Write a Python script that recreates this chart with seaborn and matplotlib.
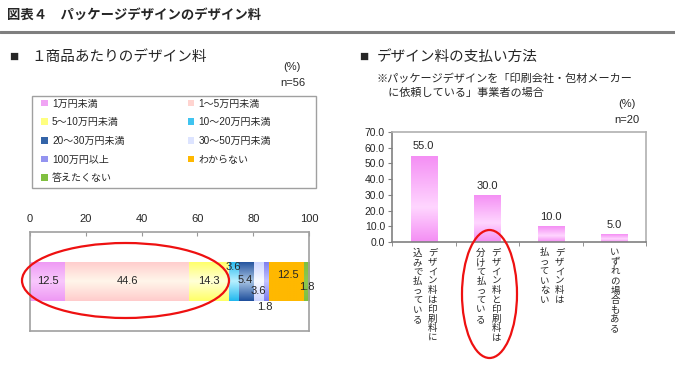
import numpy as np
import matplotlib
matplotlib.use("Agg")
import matplotlib.pyplot as plt
from matplotlib.colors import LinearSegmentedColormap
from matplotlib.patches import Patch, Rectangle, Ellipse
from matplotlib.lines import Line2D
import seaborn as sns

# data: design fee per product (stacked bar)
fee_labels = ["1万円未満", "1～5万円未満", "5～10万円未満", "10～20万円未満",
              "20～30万円未満", "30～50万円未満", "100万円以上", "わからない", "答えたくない"]
fee_values = [12.5, 44.6, 14.3, 3.6, 5.4, 3.6, 1.8, 12.5, 1.8]
fee_ticks = [0, 20, 40, 60, 80, 100]
fee_n = 56

# data: payment method (bar chart)
pay_labels = ["デザイン料は印刷料に込みで払っている", "デザイン料と印刷料は分けて払っている",
              "デザイン料は払っていない", "いずれの場合もある"]
pay_columns = [["デザイン料は印刷料に", "込みで払っている"],
               ["デザイン料と印刷料は", "分けて払っている"],
               ["デザイン料は", "払っていない"],
               ["いずれの場合もある"]]
pay_values = [55.0, 30.0, 10.0, 5.0]
pay_ticks = [0, 10, 20, 30, 40, 50, 60, 70]
pay_n = 20

# colours (edge tone / light tone of each gradient)
seg_dark = ["#ee98f4", "#ffcccc", "#ffff66", "#22b8ee", "#1f4f9c",
            "#ccd4ff", "#7c7cee", "#ffb800", "#7cc040"]
seg_light = ["#f8c8fc", "#fff6ea", "#ffffd8", "#b8f0ff", "#a8c4e4",
             "#f8faff", "#c4c4ff", "#ffb800", "#8cc850"]
legend_col = ["#f0a4f4", "#ffd4d0", "#ffff80", "#40c4f0", "#3464a8",
              "#dde4ff", "#9494f0", "#ffb800", "#80c040"]
bar_dark = "#f48ef4"
bar_light = "#ffd6ff"

# label nudges for the thin segments (data units)
seg_dx = [0, 0, 0, -0.4, -0.7, -0.5, -0.7, 0.5, 0.1]
seg_dy = [0, 0, 0, 0.146, 0.015, -0.096, -0.258, 0.066, -0.056]

sns.set_style("white")
plt.rcParams["font.family"] = ["Liberation Sans", "Noto Sans CJK JP"]

W, H = 675, 380
fig = plt.figure(figsize=(6.75, 3.8), dpi=100)


def fx(x):
    return x / W


def fy(y):
    return 1 - y / H


def gradient(ax, patch, dark, light, pos=0.5):
    x0, y0 = patch.get_x(), patch.get_y()
    w, h = patch.get_width(), patch.get_height()
    cmap = LinearSegmentedColormap.from_list("g", [(0, dark), (pos, light), (1, dark)])
    grad = np.linspace(0, 1, 100).reshape(-1, 1)
    im = ax.imshow(grad, cmap=cmap, aspect="auto", origin="lower",
                   extent=(x0, x0 + w, y0, y0 + h), zorder=patch.get_zorder() + 0.1)
    im.set_clip_path(patch)


# header
fig.text(fx(7), fy(15), "図表４　パッケージデザインのデザイン料", fontsize=9.6,
         fontweight="bold", va="center", ha="left")
fig.add_artist(Line2D([0, 1], [fy(31.5), fy(31.5)], color="#7f7f7f", lw=2.2))

# left section titles
fig.text(fx(9), fy(57), "■", fontsize=11, va="center")
fig.text(fx(31), fy(57), "１商品あたりのデザイン料", fontsize=10.5, va="center")
fig.text(fx(292), fy(67), "(%)", fontsize=8, ha="center", va="center")
fig.text(fx(293), fy(83), f"n={fee_n}", fontsize=8, ha="center", va="center")

# right section titles
fig.text(fx(359), fy(57), "■", fontsize=11, va="center")
fig.text(fx(377), fy(57), "デザイン料の支払い方法", fontsize=10.5, va="center")
fig.text(fx(377), fy(79), "※パッケージデザインを「印刷会社・包材メーカー", fontsize=8, va="center")
fig.text(fx(377), fy(93), "　に依頼している」事業者の場合", fontsize=8, va="center")
fig.text(fx(627), fy(104), "(%)", fontsize=8, ha="center", va="center")
fig.text(fx(627), fy(120), f"n={pay_n}", fontsize=8, ha="center", va="center")

# ---- left: stacked bar ----
ax1 = fig.add_axes([fx(30), fy(331), fx(309) - fx(30), fy(232) - fy(331)])
lefts = np.concatenate([[0], np.cumsum(fee_values)[:-1]])
bars = ax1.barh([0] * len(fee_values), fee_values, left=lefts, height=0.4,
                color=seg_dark, linewidth=0)
for p, d, l in zip(bars.patches, seg_dark, seg_light):
    gradient(ax1, p, d, l)
for i, v in enumerate(fee_values):
    ax1.text(lefts[i] + v / 2 + seg_dx[i], seg_dy[i], f"{v:.1f}", fontsize=8,
             ha="center", va="center", zorder=5)
ax1.set_xlim(0, 100)
ax1.set_ylim(-0.5, 0.5)
ax1.set_yticks([])
ax1.xaxis.tick_top()
ax1.set_xticks(fee_ticks)
ax1.tick_params(axis="x", direction="in", length=3, color="#999999", labelsize=8, pad=6)
for s in ax1.spines.values():
    s.set_color("#a0a0a0")
    s.set_linewidth(1.2)

# legend with separate box
handles = [Patch(facecolor=c, edgecolor="none") for c in legend_col]
order = [0, 2, 4, 6, 8, 1, 3, 5, 7]
fig.legend([handles[i] for i in order], [fee_labels[i] for i in order],
           loc="upper left", bbox_to_anchor=(fx(41), fy(98.5)), ncol=2, frameon=False,
           fontsize=7.2, handlelength=0.65, handleheight=0.65, handletextpad=0.45,
           labelspacing=0.87, columnspacing=6.3, borderpad=0, borderaxespad=0)
fig.add_artist(Rectangle((fx(32), fy(188)), fx(316) - fx(32), fy(96) - fy(188),
                         transform=fig.transFigure, fill=False, edgecolor="#a0a0a0", lw=1))

# ---- right: bar chart ----
ax2 = fig.add_axes([fx(392), fy(242), fx(646) - fx(392), fy(132) - fy(242)])
sns.barplot(x=pay_labels, y=pay_values, color=bar_dark, width=0.41, linewidth=0, ax=ax2)
for p in ax2.patches:
    gradient(ax2, p, bar_dark, bar_light, pos=0.4)
ax2.bar_label(ax2.containers[0], fmt="%.1f", padding=3, fontsize=8)
ax2.set_xlim(-0.5, len(pay_values) - 0.5)
ax2.set_ylim(0, 70)
ax2.set_yticks(pay_ticks)
ax2.set_yticklabels([f"{t:.1f}" for t in pay_ticks])
ax2.tick_params(axis="y", left=True, length=3, color="#808080", labelsize=7.5, pad=2)
ax2.set_xticks([])
ax2.set_xticks(np.arange(len(pay_values) + 1) - 0.5, minor=True)
ax2.tick_params(axis="x", which="minor", bottom=True, length=3, color="#808080")
ax2.set_xlabel("")
for name, s in ax2.spines.items():
    s.set_color("#808080" if name in ("left", "bottom") else "#b0b0b0")
    s.set_linewidth(1.2)

# vertical (tategaki) category labels, columns read right to left
for i, cols in enumerate(pay_columns):
    offs = [6.5, -4.5] if len(cols) == 2 else [0.5]
    for col, dx in zip(cols, offs):
        ax2.annotate("\n".join(col), xy=(i, 0), xycoords=("data", "axes fraction"),
                     xytext=(dx, -4.5), textcoords="offset points", ha="center",
                     va="top", fontsize=6.8, linespacing=1.07,
                     family=["Noto Sans CJK JP"])

# red highlight ellipses
fig.add_artist(Ellipse((fx(125.5), fy(280.5)), 207 / W, 75 / H, transform=fig.transFigure,
                       fill=False, edgecolor="#ee1111", lw=1.6, zorder=10))
fig.add_artist(Ellipse((fx(489.5), fy(294)), 55 / W, 128 / H, transform=fig.transFigure,
                       fill=False, edgecolor="#ee1111", lw=1.6, zorder=10))

fig.savefig("out.png", dpi=100, facecolor="white")
